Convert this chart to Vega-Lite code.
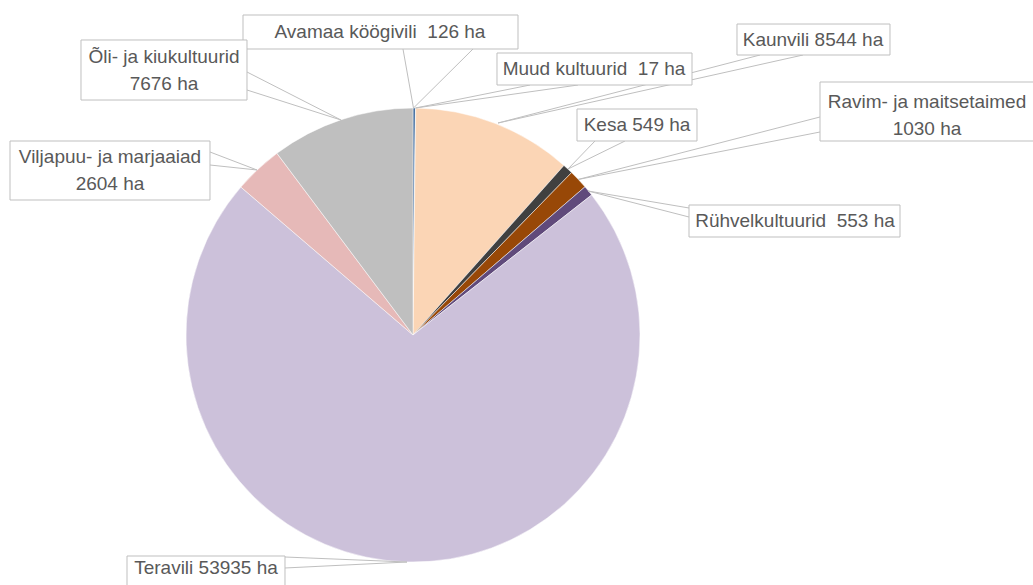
{
  "$schema": "https://vega.github.io/schema/vega-lite/v6.json",
  "width": 1033,
  "height": 585,
  "autosize": {"type": "none"},
  "padding": 0,
  "background": "#ffffff",
  "view": {"stroke": null},
  "datasets": {
    "slices": [
      {"idx": 1, "kultuur": "Avamaa köögivili", "ha": 126},
      {"idx": 2, "kultuur": "Muud kultuurid", "ha": 17},
      {"idx": 3, "kultuur": "Kaunvili", "ha": 8544},
      {"idx": 4, "kultuur": "Kesa", "ha": 549},
      {"idx": 5, "kultuur": "Ravim- ja maitsetaimed", "ha": 1030},
      {"idx": 6, "kultuur": "Rühvelkultuurid", "ha": 553},
      {"idx": 7, "kultuur": "Teravili", "ha": 53935},
      {"idx": 8, "kultuur": "Viljapuu- ja marjaaiad", "ha": 2604},
      {"idx": 9, "kultuur": "Õli- ja kiukultuurid", "ha": 7676}
    ],
    "callouts": [
      {"label": "Avamaa köögivili\u00a0 126 ha", "bx1": -0.7489, "bx2": 0.4626, "by1": 1.2599, "by2": 1.4097, "tx": -0.1454, "ty": 1.3348, "p1x": -0.0441, "p1y": 1.2599, "p2x": 0.2643, "p2y": 1.2599, "qx": 0.0022, "qy": 1.0},
      {"label": "Muud kultuurid\u00a0 17 ha", "bx1": 0.37, "bx2": 1.2291, "by1": 1.1013, "by2": 1.2423, "tx": 0.7974, "ty": 1.1718, "p1x": 0.5154, "p1y": 1.1013, "p2x": 0.7269, "p2y": 1.1013, "qx": 0.011, "qy": 1.0},
      {"label": "Kaunvili 8544 ha", "bx1": 1.4273, "bx2": 2.1013, "by1": 1.2335, "by2": 1.37, "tx": 1.7621, "ty": 1.2996, "p1x": 1.5286, "p1y": 1.2335, "p2x": 1.7181, "p2y": 1.2335, "qx": 0.3744, "qy": 0.9339},
      {"label": "Kesa 549 ha", "bx1": 0.7225, "bx2": 1.2511, "by1": 0.8546, "by2": 0.9956, "tx": 0.9868, "ty": 0.9251, "p1x": 0.8018, "p1y": 0.8546, "p2x": 0.9339, "p2y": 0.8546, "qx": 0.6828, "qy": 0.7313},
      {"label": "Ravim- ja maitsetaimed\n1030 ha", "bx1": 1.793, "bx2": 2.8, "by1": 0.8546, "by2": 1.1145, "tx": 2.2643, "ty": 1.0264, "p1x": 1.793, "p1y": 0.9604, "p2x": 1.793, "p2y": 0.8943, "qx": 0.7269, "qy": 0.685},
      {"label": "Rühvelkultuurid\u00a0 553 ha", "bx1": 1.2159, "bx2": 2.1454, "by1": 0.4317, "by2": 0.5727, "tx": 1.6828, "ty": 0.5022, "p1x": 1.2159, "p1y": 0.5595, "p2x": 1.2159, "p2y": 0.5198, "qx": 0.7709, "qy": 0.6344},
      {"label": "Teravili 53935 ha", "bx1": -1.2599, "bx2": -0.5639, "by1": -1.1233, "by2": -0.9736, "tx": -0.9119, "ty": -1.0264, "p1x": -0.5639, "p1y": -0.978, "p2x": -0.5639, "p2y": -1.0264, "qx": -0.0264, "qy": -1.0},
      {"label": "Viljapuu- ja marjaaiad\n2604 ha", "bx1": -1.7753, "bx2": -0.8943, "by1": 0.5947, "by2": 0.8546, "tx": -1.3348, "ty": 0.7841, "p1x": -0.8943, "p1y": 0.8062, "p2x": -0.8943, "p2y": 0.7489, "qx": -0.6872, "qy": 0.7269},
      {"label": "Õli- ja kiukultuurid\n7676 ha", "bx1": -1.4626, "bx2": -0.7313, "by1": 1.0352, "by2": 1.2996, "tx": -1.0969, "ty": 1.2247, "p1x": -0.7313, "p1y": 1.1586, "p2x": -0.7313, "p2y": 1.0793, "qx": -0.3172, "qy": 0.9471}
    ]
  },
  "layer": [
    {
      "data": {"name": "slices"},
      "mark": {"type": "arc", "outerRadius": 227, "stroke": "#ffffff", "strokeWidth": 0.5},
      "encoding": {
        "x": {"datum": 0, "type": "quantitative", "scale": {"domain": [-1.8194, 2.7313], "nice": false, "zero": false}, "axis": null},
        "y": {"datum": 0, "type": "quantitative", "scale": {"domain": [-1.1013, 1.4758], "nice": false, "zero": false}, "axis": null},
        "theta": {"field": "ha", "type": "quantitative", "stack": true},
        "order": {"field": "idx", "type": "quantitative"},
        "color": {
          "field": "kultuur",
          "type": "nominal",
          "legend": null,
          "scale": {
            "domain": ["Avamaa köögivili", "Muud kultuurid", "Kaunvili", "Kesa", "Ravim- ja maitsetaimed", "Rühvelkultuurid", "Teravili", "Viljapuu- ja marjaaiad", "Õli- ja kiukultuurid"],
            "range": ["#2e5d94", "#4f81bd", "#fbd5b5", "#404040", "#984807", "#604a7b", "#ccc1da", "#e6b9b8", "#bfbfbf"]
          }
        }
      }
    },
    {
      "data": {"name": "callouts"},
      "mark": {"type": "rule", "stroke": "#bfbfbf", "strokeWidth": 1},
      "encoding": {
        "x": {"field": "p1x", "type": "quantitative"},
        "y": {"field": "p1y", "type": "quantitative"},
        "x2": {"field": "qx"},
        "y2": {"field": "qy"}
      }
    },
    {
      "data": {"name": "callouts"},
      "mark": {"type": "rule", "stroke": "#bfbfbf", "strokeWidth": 1},
      "encoding": {
        "x": {"field": "p2x", "type": "quantitative"},
        "y": {"field": "p2y", "type": "quantitative"},
        "x2": {"field": "qx"},
        "y2": {"field": "qy"}
      }
    },
    {
      "data": {"name": "callouts"},
      "mark": {"type": "rect", "fill": "#ffffff", "stroke": "#bfbfbf", "strokeWidth": 1},
      "encoding": {
        "x": {"field": "bx1", "type": "quantitative"},
        "x2": {"field": "bx2"},
        "y": {"field": "by1", "type": "quantitative"},
        "y2": {"field": "by2"}
      }
    },
    {
      "data": {"name": "callouts"},
      "mark": {"type": "text", "font": "Liberation Sans", "fontSize": 19, "fill": "#595959", "align": "center", "baseline": "middle", "lineBreak": "\n", "lineHeight": 27},
      "encoding": {
        "x": {"field": "tx", "type": "quantitative"},
        "y": {"field": "ty", "type": "quantitative"},
        "text": {"field": "label", "type": "nominal"}
      }
    }
  ]
}
